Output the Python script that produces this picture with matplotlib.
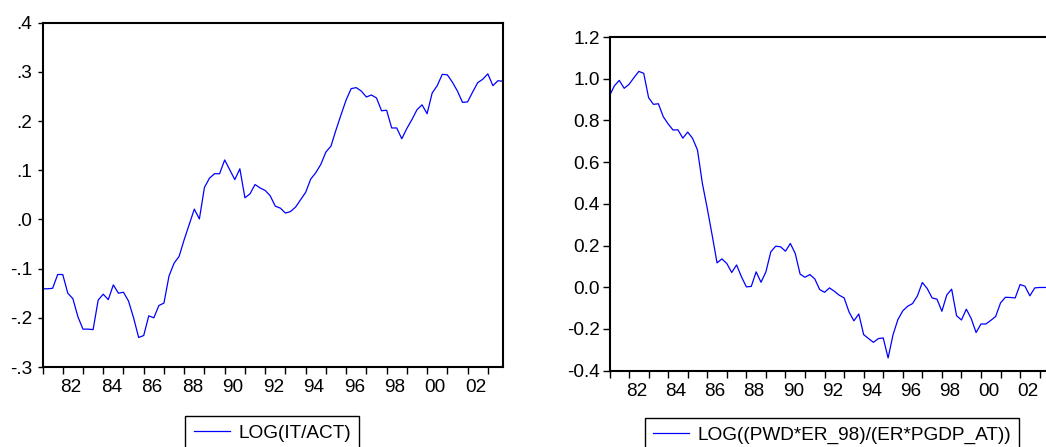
import numpy as np
import matplotlib
matplotlib.use("Agg")
import matplotlib.pyplot as plt
from matplotlib.ticker import FixedLocator, FixedFormatter, NullFormatter

plt.rcParams['font.family'] = ['Liberation Sans', 'DejaVu Sans']

# Quarterly sample 1981Q1 - 2003Q4
start_year = 1981
n_quarters = 92

log_it_act = [
    -0.141, -0.141, -0.140, -0.112, -0.112, -0.150, -0.161, -0.198, -0.223, -0.223,
    -0.224, -0.164, -0.152, -0.163, -0.133, -0.150, -0.148, -0.166, -0.200, -0.240,
    -0.236, -0.196, -0.200, -0.175, -0.170, -0.115, -0.089, -0.075, -0.041, -0.010,
    0.021, 0.001, 0.065, 0.084, 0.093, 0.093, 0.121, 0.101, 0.081, 0.103,
    0.044, 0.052, 0.071, 0.064, 0.059, 0.048, 0.027, 0.023, 0.013, 0.016,
    0.025, 0.040, 0.055, 0.082, 0.095, 0.112, 0.137, 0.149, 0.182, 0.213,
    0.243, 0.266, 0.268, 0.261, 0.249, 0.253, 0.247, 0.221, 0.222, 0.186,
    0.186, 0.164, 0.185, 0.203, 0.223, 0.233, 0.215, 0.257, 0.272, 0.295,
    0.294, 0.279, 0.261, 0.238, 0.239, 0.259, 0.278, 0.285, 0.296, 0.272,
    0.282, 0.281,
]

log_real_price = [
    0.918, 0.966, 0.992, 0.954, 0.973, 1.005, 1.035, 1.026, 0.909, 0.877,
    0.880, 0.818, 0.783, 0.754, 0.755, 0.715, 0.744, 0.714, 0.658, 0.498,
    0.378, 0.250, 0.117, 0.136, 0.114, 0.071, 0.107, 0.050, 0.002, 0.004,
    0.074, 0.024, 0.074, 0.170, 0.197, 0.194, 0.173, 0.210, 0.162, 0.063,
    0.048, 0.061, 0.040, -0.011, -0.024, -0.003, -0.019, -0.038, -0.051, -0.118,
    -0.161, -0.128, -0.227, -0.246, -0.264, -0.246, -0.243, -0.339, -0.228, -0.155,
    -0.113, -0.091, -0.078, -0.041, 0.023, -0.006, -0.051, -0.057, -0.115, -0.037,
    -0.009, -0.136, -0.157, -0.105, -0.150, -0.217, -0.176, -0.176, -0.159, -0.140,
    -0.075, -0.048, -0.049, -0.051, 0.013, 0.005, -0.041, -0.003, -0.001, -0.001,
    0.000, 0.000,
]

left_label = "LOG(IT/ACT)"
right_label = "LOG((PWD*ER_98)/(ER*PGDP_AT))"

left_yticks = [-0.3, -0.2, -0.1, 0.0, 0.1, 0.2, 0.3, 0.4]
left_yticklabels = ["-.3", "-.2", "-.1", ".0", ".1", ".2", ".3", ".4"]
right_yticks = [-0.4, -0.2, 0.0, 0.2, 0.4, 0.6, 0.8, 1.0, 1.2]
right_yticklabels = ["-0.4", "-0.2", "0.0", "0.2", "0.4", "0.6", "0.8", "1.0", "1.2"]
year_labels = ["82", "84", "86", "88", "90", "92", "94", "96", "98", "00", "02"]

t = start_year + np.arange(n_quarters) / 4.0
years = np.arange(1981, 2004)
label_years = np.arange(1982, 2004, 2)

W, H = 1046, 447
fig = plt.figure(figsize=(W / 100, H / 100), dpi=100)

line_color = "#0000ff"
font_px = 19
fs = font_px * 72 / 100


def setup(ax, values, yticks, yticklabels, ylim, ylen, ypad):
    ax.plot(t, values, color=line_color, lw=0.9)
    ax.set_xlim(t[0], t[-1])
    ax.set_ylim(*ylim)
    for s in ax.spines.values():
        s.set_linewidth(1.5)
        s.set_color("black")
    ax.set_yticks(yticks)
    ax.set_yticklabels(yticklabels)
    ax.tick_params(axis="y", direction="out", length=ylen, width=1.0,
                   pad=ypad, labelsize=fs, colors="black")
    ax.xaxis.set_major_locator(FixedLocator(years))
    ax.xaxis.set_major_formatter(NullFormatter())
    ax.xaxis.set_minor_locator(FixedLocator(label_years + 0.4))
    ax.xaxis.set_minor_formatter(FixedFormatter(year_labels))
    ax.tick_params(axis="x", which="major", direction="out", length=5,
                   width=1.0, colors="black")
    ax.tick_params(axis="x", which="minor", length=0, pad=9, labelsize=fs)


ax1 = fig.add_axes([42.5 / W, (H - 367) / H, (503 - 42.5) / W, (367 - 22.7) / H])
setup(ax1, log_it_act, left_yticks, left_yticklabels, (-0.3, 0.4), 3.6, 4.0)

ax2 = fig.add_axes([609.5 / W, (H - 370.7) / H, (1054.3 - 609.5) / W, (370.7 - 37) / H])
setup(ax2, log_real_price, right_yticks, right_yticklabels, (-0.4, 1.2), 5.0, 2.0)

for ax, label, cx, top in [(ax1, left_label, 272.4, 416), (ax2, right_label, 832, 418)]:
    ax.legend([ax.lines[0]], [label], loc="upper center",
              bbox_to_anchor=(cx / W, (H - top) / H), bbox_transform=fig.transFigure,
              fontsize=fs, frameon=True, fancybox=False, edgecolor="black",
              framealpha=1, handlelength=1.9, handletextpad=0.42,
              borderpad=0.45, borderaxespad=0)
    ax.get_legend().get_frame().set_linewidth(1.0)

fig.savefig("out.png", dpi=100)
